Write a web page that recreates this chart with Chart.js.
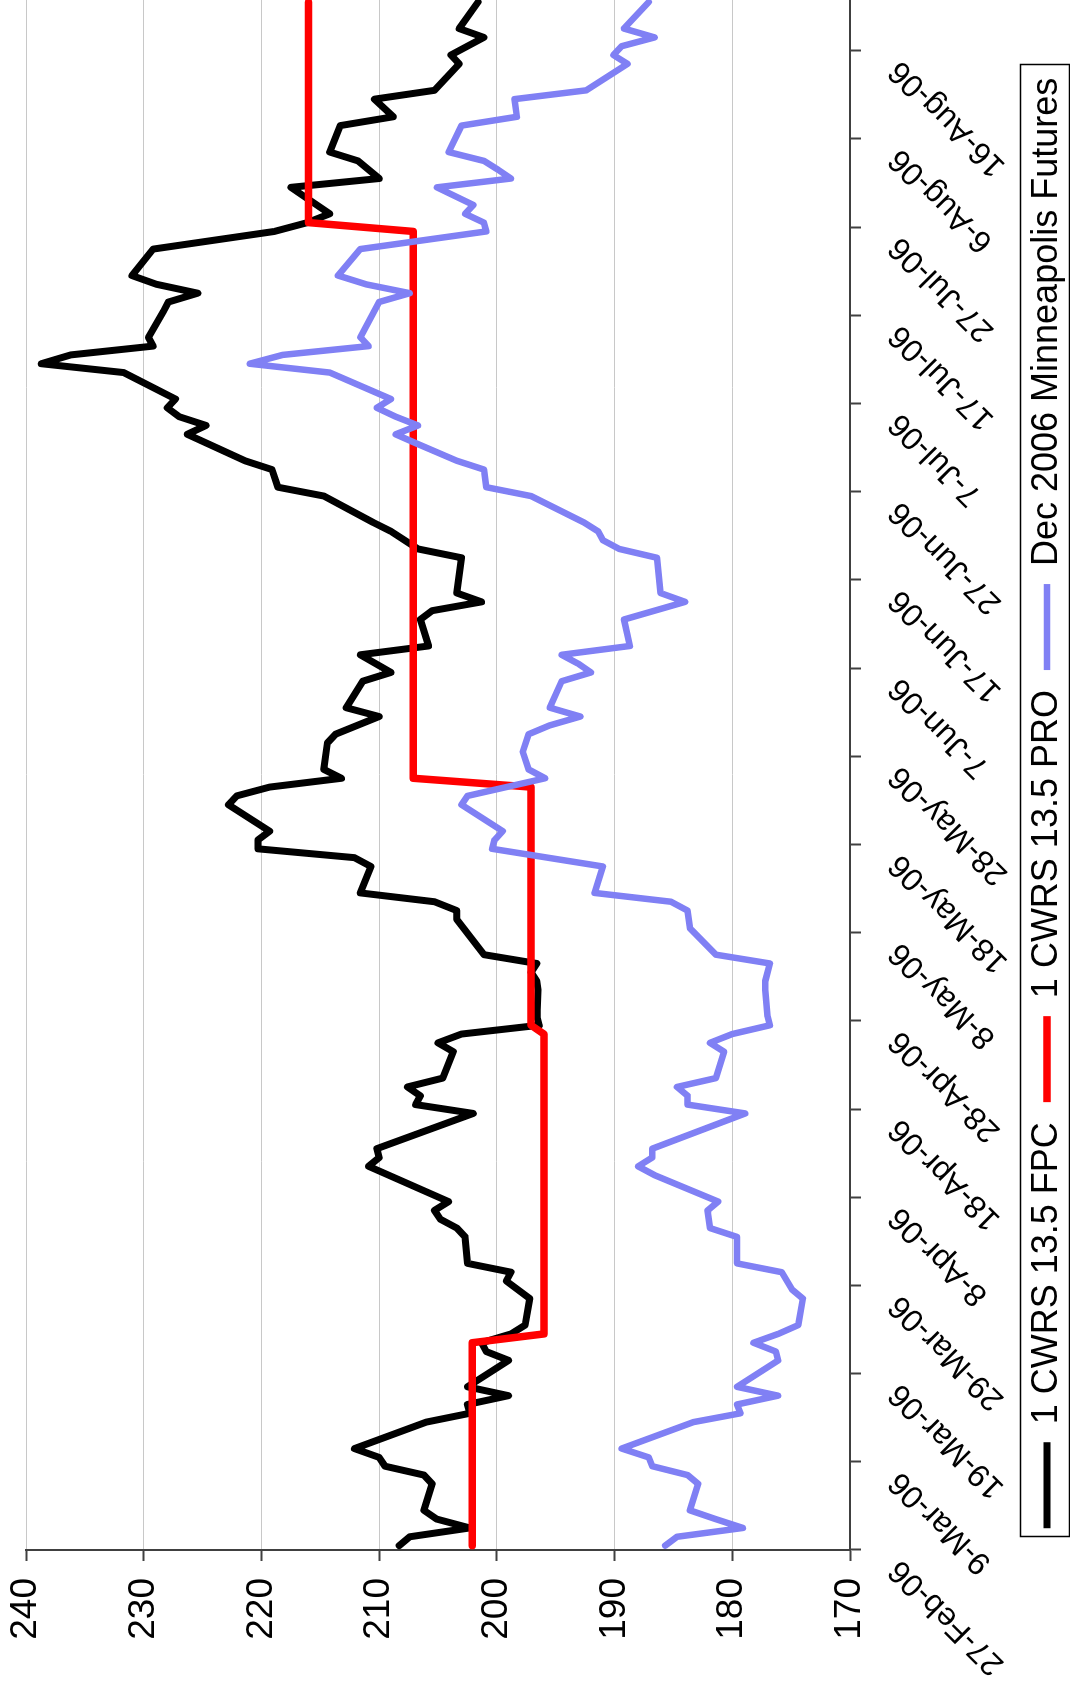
<!DOCTYPE html>
<html><head><meta charset="utf-8">
<script src="https://cdn.jsdelivr.net/npm/chart.js@4.4.0/dist/chart.umd.min.js"></script>
<style>
html,body{margin:0;padding:0;background:#fff;overflow:hidden;width:1070px;height:1684px}
#wrap{position:absolute;left:0;top:0;width:1684px;height:1070px;transform-origin:0 0;transform:translate(0px,1684px) rotate(-90deg)}
canvas{display:block}
</style></head>
<body><div id="wrap"><canvas id="c" width="1684" height="1070" style="width:1684px;height:1070px"></canvas></div>
<script>
// x values are days after 27-Feb-06
const xTickLabels = ['27-Feb-06','9-Mar-06','19-Mar-06','29-Mar-06','8-Apr-06','18-Apr-06','28-Apr-06','8-May-06','18-May-06','28-May-06','7-Jun-06','17-Jun-06','27-Jun-06','7-Jul-06','17-Jul-06','27-Jul-06','6-Aug-06','16-Aug-06'];
const seriesNames = ['1 CWRS 13.5 FPC', '1 CWRS 13.5 PRO', 'Dec 2006 Minneapolis Futures'];

const fpcDays = [0,1,2,3,4,7,8,9,10,11,14,15,16,17,18,21,22,23,24,25,28,30,31,32,35,36,37,38,39,43,44,45,49,50,51,52,53,56,57,58,59,60,63,64,65,66,67,71,72,73,74,77,78,79,80,81,84,85,86,87,88,91,92,94,95,98,99,101,102,105,106,107,108,112,113,115,116,119,120,122,123,126,127,128,129,130,133,134,135,136,137,140,141,142,143,144,147,149,150,151,154,155,157,158,161,162,164,165,168,169,171,172,175];
const fpcValues = [208.3,207.4,202.3,205.1,206.2,205.5,206.2,209.5,210.0,212.1,206.0,202.3,202.5,199.0,202.5,199.0,200.9,201.3,198.8,197.6,197.2,199.2,198.8,202.5,202.7,203.4,204.8,205.3,204.1,210.9,210.0,210.2,202.0,206.9,206.5,207.6,204.6,203.7,205.0,203.0,196.4,196.6,196.5,196.6,197.1,196.6,201.1,203.4,203.4,205.3,211.6,210.7,212.1,220.3,220.3,219.3,222.8,222.1,219.3,213.2,214.7,214.4,213.7,210.0,212.8,211.4,209.0,211.6,205.8,206.5,205.5,201.3,203.4,203.0,206.7,209.0,210.5,214.7,218.6,219.1,221.4,226.3,224.7,227.0,228.0,227.3,231.7,238.7,236.2,229.2,229.6,228.3,227.9,225.4,228.9,231.0,229.2,218.9,216.1,214.2,217.5,210.0,211.8,214.2,213.3,208.8,210.4,205.3,203.2,203.9,201.1,203.2,201.6];

const proDays = [0,23,24,58,59,86,87,149,150,175];
const proValues = [202.1,202.1,196.0,196.0,197.1,197.1,207.1,207.1,216.0,216.0];

const futDays = [0,1,2,3,4,7,8,9,10,11,14,15,16,17,18,21,22,23,24,25,28,29,31,32,35,36,38,39,42,43,44,45,49,50,51,52,53,56,57,58,59,60,63,64,66,67,70,72,73,74,77,79,80,81,84,85,87,88,90,92,93,94,95,98,99,100,101,102,105,107,108,112,113,114,115,116,119,120,122,123,125,126,127,128,129,130,133,134,135,136,137,141,142,143,144,147,149,150,151,152,154,155,156,157,158,161,162,164,165,168,169,170,171,172,175];
const futValues = [185.7,184.7,179.1,181.4,183.6,182.9,183.8,186.8,187.1,189.4,183.3,179.3,179.6,176.1,179.6,176.1,176.3,178.2,176.1,174.4,174.0,174.9,175.8,179.6,179.6,181.9,182.1,181.2,186.6,188.0,186.8,186.8,178.9,183.8,183.8,184.7,181.4,180.7,181.9,180.0,176.8,177.0,177.2,177.2,176.8,181.4,183.6,183.8,185.2,191.7,191.0,200.4,200.2,199.5,203.0,202.5,195.9,197.3,197.8,197.3,195.5,192.9,195.5,194.5,192.0,193.1,194.5,188.7,189.2,184.0,186.1,186.4,189.6,191.0,191.4,192.6,197.1,200.9,201.1,203.4,206.9,208.6,206.7,208.6,210.2,209.0,214.2,221.0,218.2,210.9,211.6,210.0,207.4,211.1,213.5,211.6,200.9,201.1,202.7,202.0,205.1,198.8,199.9,201.1,204.1,203.0,198.3,198.5,192.4,188.9,190.1,189.4,186.6,189.2,187.1];

const yMin = 170, yMax = 240, yStep = 10;
const xMax = 175.24;

const MONTHS = {Jan:0,Feb:1,Mar:2,Apr:3,May:4,Jun:5,Jul:6,Aug:7,Sep:8,Oct:9,Nov:10,Dec:11};
function dayOf(label){
  const p = label.split('-');
  return Math.round((Date.UTC(2000 + +p[2], MONTHS[p[1]], +p[0]) - Date.UTC(2006,1,27)) / 86400000);
}
const xTickDays = xTickLabels.map(dayOf);
const toPts = (d, v) => d.map((x, i) => ({x: x, y: v[i]}));

Chart.defaults.font.family = '"Liberation Sans", Arial, sans-serif';

const legendLeft = 78;
const legendShift = {
  id: 'legendShift',
  afterLayout(chart) { if (chart.legend) chart.legend.left = legendLeft; }
};
const legendBox = {
  id: 'legendBox',
  afterDraw(chart) {
    const lg = chart.legend;
    if (!lg || !lg.legendHitBoxes || !lg.legendHitBoxes.length) return;
    const hb = lg.legendHitBoxes;
    const l = Math.min(...hb.map(h => h.left)) - 9;
    const r = Math.max(...hb.map(h => h.left + h.width)) + 13;
    const t = hb[0].top - 9;
    const b = chart.height - 1;
    const c = chart.ctx;
    c.save();
    c.strokeStyle = '#000';
    c.lineWidth = 1.5;
    c.strokeRect(Math.round(l) + 0.5, Math.round(t) + 0.5, Math.round(r - l), Math.round(b - t));
    c.restore();
  }
};

new Chart(document.getElementById('c'), {
  type: 'line',
  data: {
    datasets: [
      {label: seriesNames[0], data: toPts(fpcDays, fpcValues), borderColor: '#000000', backgroundColor: '#000000', borderWidth: 7, order: 3},
      {label: seriesNames[1], data: toPts(proDays, proValues), borderColor: '#ff0000', backgroundColor: '#ff0000', borderWidth: 7.5, order: 2},
      {label: seriesNames[2], data: toPts(futDays, futValues), borderColor: '#8080f4', backgroundColor: '#8080f4', borderWidth: 6.5, order: 1}
    ]
  },
  options: {
    responsive: false,
    animation: false,
    devicePixelRatio: 1,
    elements: {
      point: {radius: 0, hoverRadius: 0},
      line: {tension: 0, borderJoinStyle: 'round', borderCapStyle: 'round', fill: false}
    },
    layout: {padding: {left: 0, top: 26, right: 0, bottom: -5}},
    scales: {
      x: {
        type: 'linear', min: -0.5, max: xMax,
        afterBuildTicks: s => { s.ticks = xTickDays.map(d => ({value: d - 0.5})); },
        afterFit: s => { s.height = 159; s.paddingLeft = 0; s.paddingRight = 0; },
        ticks: {autoSkip: false, maxRotation: 45, minRotation: 45, color: '#000', font: {size: 32}, padding: 20, labelOffset: -15,
                callback: (v, i) => xTickLabels[i]},
        grid: {display: true, drawOnChartArea: false, drawTicks: true, tickLength: 11, tickColor: '#404040', tickWidth: 2},
        border: {display: true, color: '#404040', width: 2}
      },
      y: {
        min: yMin, max: yMax,
        afterFit: s => { s.width = 134; s.paddingTop = 0; s.paddingBottom = 0; },
        ticks: {stepSize: yStep, color: '#000', font: {size: 37}, padding: 17},
        grid: {color: '#c8c8c8', lineWidth: 1, tickLength: 11, tickColor: '#404040', tickWidth: 2},
        border: {display: true, color: '#404040', width: 2}
      }
    },
    plugins: {
      legend: {
        position: 'bottom',
        labels: {usePointStyle: true, pointStyle: 'line', pointStyleWidth: 86, color: '#000', font: {size: 36}, padding: 20,
                 sort: (a, b) => a.datasetIndex - b.datasetIndex}
      },
      tooltip: {enabled: false}
    }
  },
  plugins: [legendShift, legendBox]
});
</script>
</body></html>
